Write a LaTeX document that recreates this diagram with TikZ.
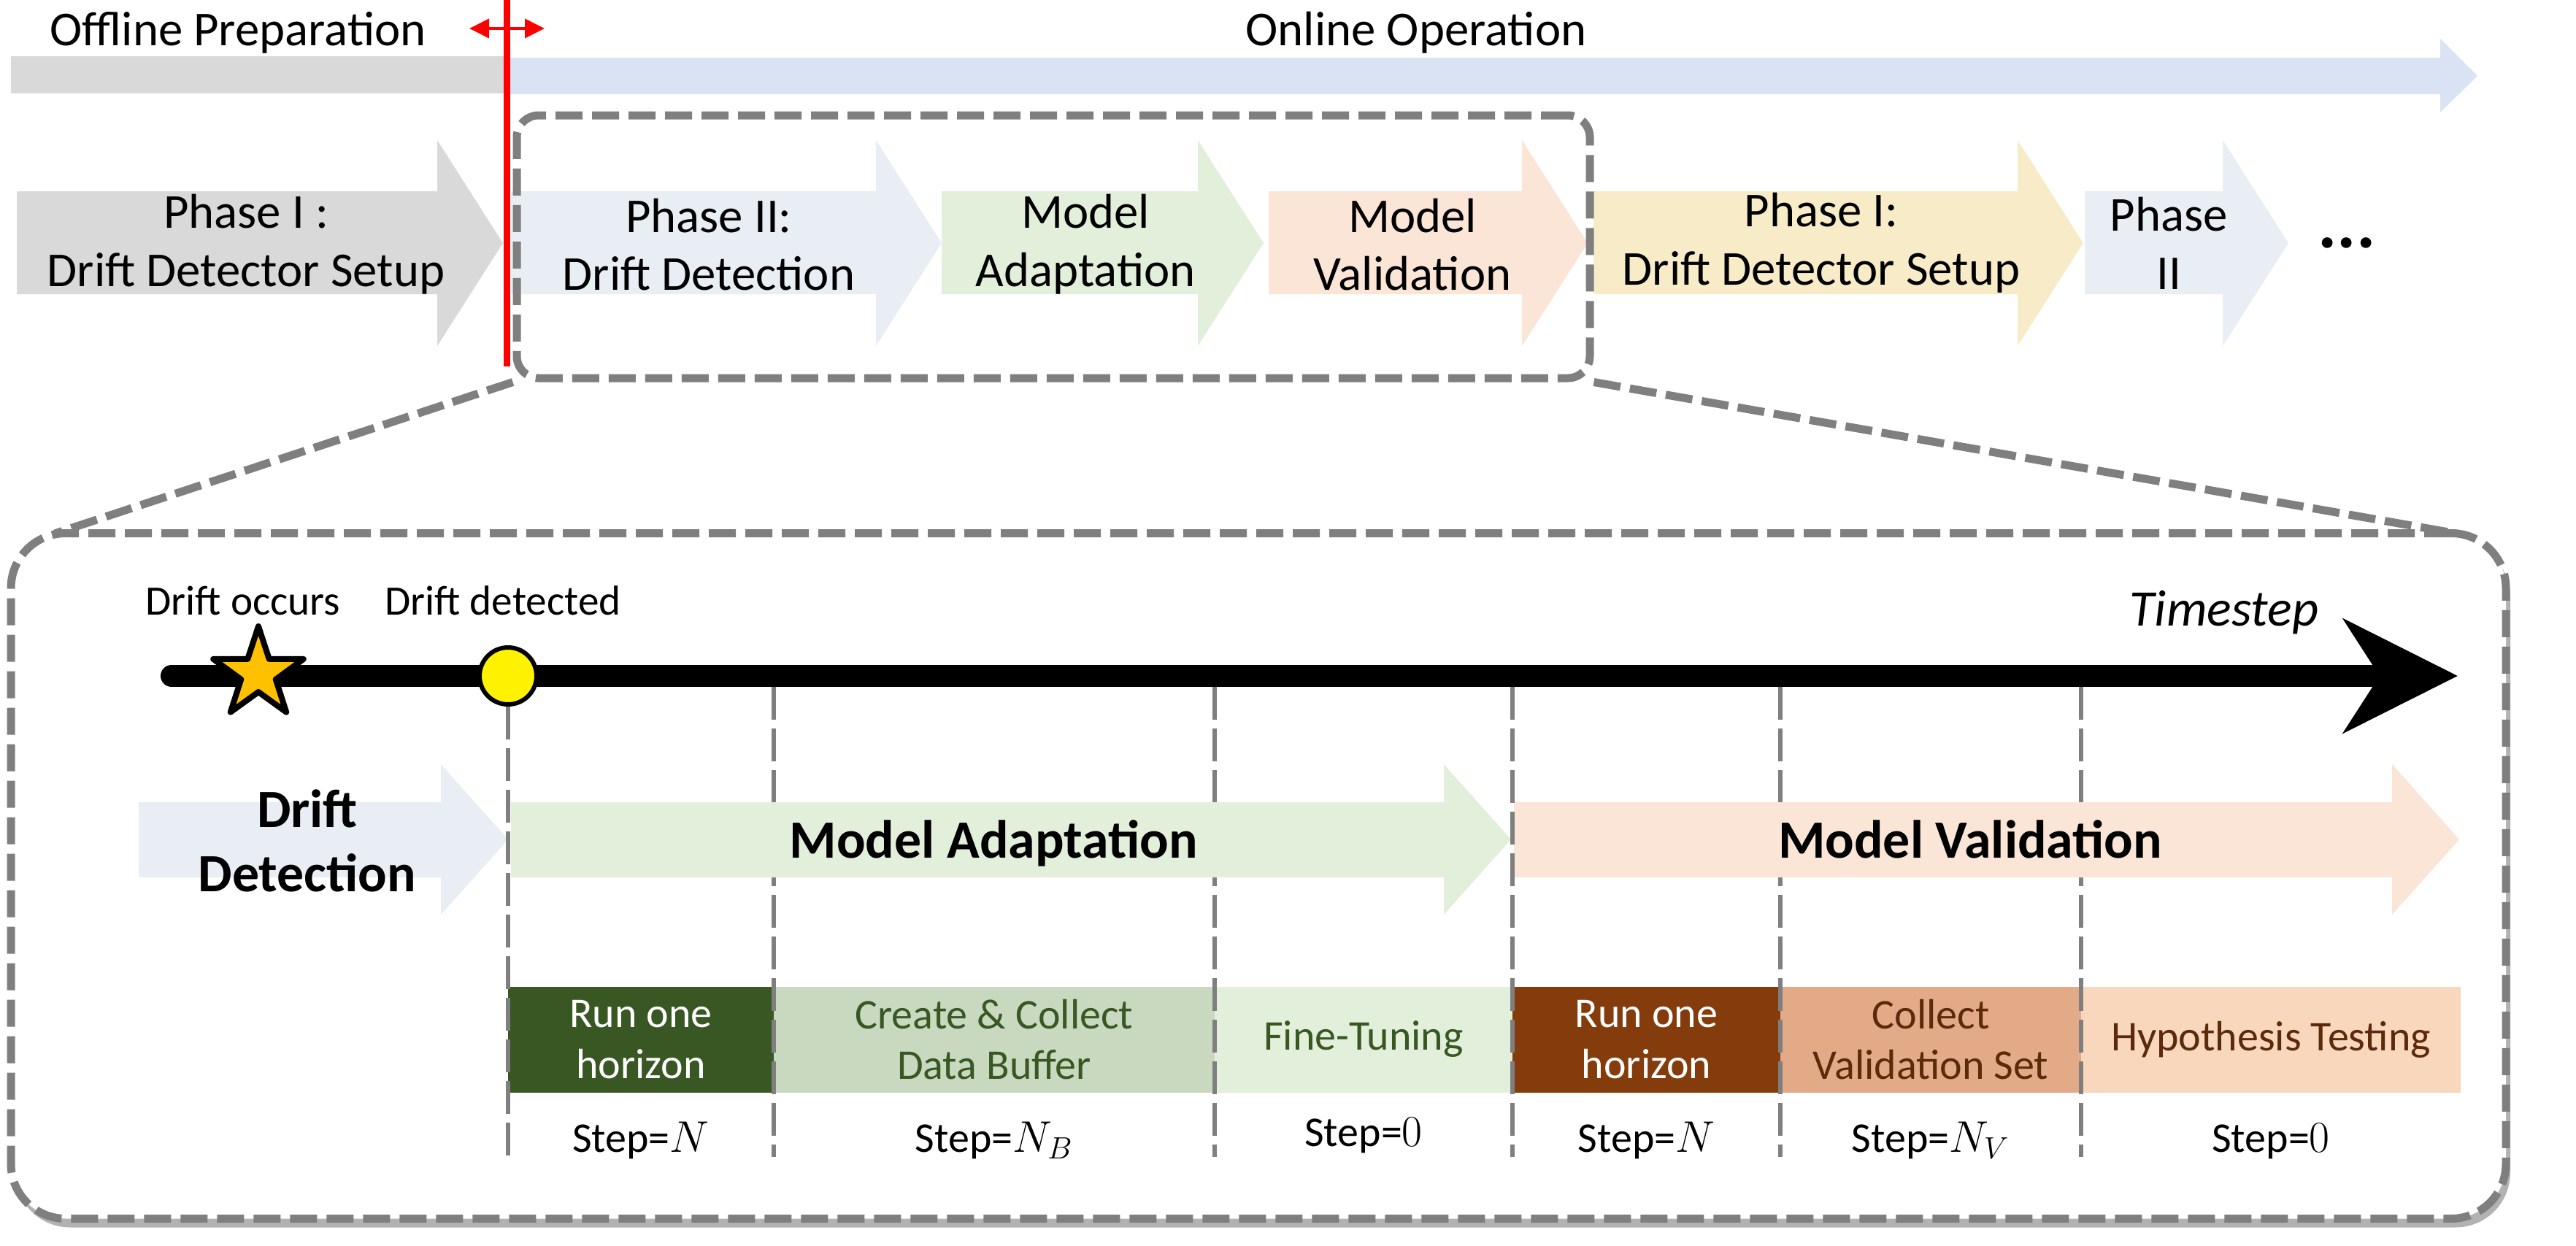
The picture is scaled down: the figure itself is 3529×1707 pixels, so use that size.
\documentclass[tikz,border=0pt]{standalone}
\usepackage{fontspec}
\setmainfont{Carlito}
\usetikzlibrary{arrows.meta,shapes.geometric,shadows}
\definecolor{phgray}{HTML}{D9D9D9}
\definecolor{phblue}{HTML}{E9EDF4}
\definecolor{phgreen}{HTML}{E2EFDA}
\definecolor{phpeach}{HTML}{FBE5D6}
\definecolor{phyellow}{HTML}{F8ECC8}
\definecolor{bandblue}{HTML}{DAE3F3}
\definecolor{zoomgray}{HTML}{7F7F7F}
\definecolor{stargold}{HTML}{FFC000}
\definecolor{darkgreen}{HTML}{385723}
\definecolor{midgreen}{HTML}{C9D9C0}
\definecolor{darkbrown}{HTML}{843C0C}
\definecolor{midbrown}{HTML}{E2AA87}
\definecolor{lightbrown}{HTML}{F8D7BC}
\definecolor{textbrown}{HTML}{5B2A0B}
\begin{document}
\begin{tikzpicture}[x=0.1mm,y=-0.1mm,line join=round,
    zoombox/.style={draw=zoomgray,line width=1.1mm,dash pattern=on 3.7mm off 1.3mm,inner sep=0pt},
    zoomline/.style={zoomgray,line width=1.1mm,dash pattern=on 3.7mm off 1.3mm},
    guide/.style={draw=zoomgray,line width=0.6mm,dash pattern=on 4.5mm off 1.2mm},
    toplabel/.style={anchor=base,font=\fontsize{19}{22}\selectfont},
    phasetext/.style={align=center,font=\fontsize{19}{22.7}\selectfont},
    bigtext/.style={align=center,font=\bfseries\fontsize{21}{25}\selectfont},
    marklabel/.style={anchor=base,font=\fontsize{16.3}{19}\selectfont},
    stepbox/.style={minimum height=14.5mm,inner sep=0pt,align=center,font=\fontsize{16.5}{19.8}\selectfont},
    steplabel/.style={anchor=base,font=\fontsize{16.5}{20}\selectfont}]
                \useasboundingbox (0,0) rectangle (3529,1707);
                \fill[phgray] (15,77) rectangle (694,128);
                \fill[bandblue] (694,79) -- (3343,79) -- (3343,53) -- (3394,104) -- (3343,154) -- (3343,129) -- (694,129) -- cycle;
                \node[toplabel] (offline) at (326,62) {Offline Preparation};
                \node[toplabel] (online) at (1940,62) {Online Operation};

                \foreach \xa/\xb/\col in {23/689/phgray,700/1290/phblue,1290/1731/phgreen,1738/2175/phpeach,2183/2854/phyellow,2856/3135/phblue}
                \fill[\col] (\xa,262) -- ({\xb-90},262) -- ({\xb-90},192) -- (\xb,333) -- ({\xb-90},474) -- ({\xb-90},403) -- (\xa,403) -- cycle;
                \node[phasetext] (setupA) at (337,335) {Phase I :\\Drift Detector Setup};
                \node[phasetext] (detectA) at (971,335) {Phase II:\\Drift Detection};
                \node[phasetext] (adaptA) at (1487,335) {Model\\Adaptation};
                \node[phasetext] (validA) at (1935,335) {Model\\Validation};
                \node[phasetext] (setupB) at (2495,333) {Phase I:\\Drift Detector Setup};
                \node[phasetext] (detectB) at (2971,333) {Phase\\II};
                \node[font=\bfseries\fontsize{28}{30}\selectfont] (more) at (3215,333) {...};

                \node[zoombox,rounded corners=3mm,minimum width=147mm,minimum height=36mm] (stage) at (1443,338) {};
                \draw[zoomline] (stage.south west) -- (75,731);
                \draw[zoomline] (stage.south east) -- (3366,731);
                \draw[red,line width=0.9mm] (694,0) -- (694,502);
                \draw[red,line width=0.4mm,{Triangle[length=2.7mm,width=2.6mm]}-{Triangle[length=2.7mm,width=2.6mm]}] (643,39) -- (746,39);

                \node[zoombox,rounded corners=7.5mm,fill=white,minimum width=341.8mm,minimum height=93.9mm,
                      drop shadow={shadow xshift=0.6mm,shadow yshift=-1.2mm,opacity=0.3,fill=black}] (detail) at (1724,1200) {};

                \draw[line width=3mm,line cap=round,-{Stealth[length=15.6mm,width=15.5mm,inset=4.9mm]}] (235,926) -- (3367,926);
                \node[star,star points=5,star point ratio=2.6,minimum size=13mm,inner sep=0pt,draw,line width=0.8mm,fill=stargold] (occur) at (354,923) {};
                \node[circle,minimum size=7.8mm,inner sep=0pt,draw,line width=0.6mm,fill=yellow] (detected) at (696,926) {};
                \node[marklabel] (occurtxt) at (333,842) {Drift occurs};
                \node[marklabel] (detecttxt) at (689,842) {Drift detected};
                \node[anchor=base,font=\itshape\fontsize{20}{24}\selectfont] (timestep) at (3047,857) {Timestep};

                \node[stepbox,fill=darkgreen,text=white,minimum width=36.4mm] (runA) at (878,1424) {Run one\\horizon};
                \node[stepbox,fill=midgreen,text=darkgreen,minimum width=60.4mm] (buffer) at (1362,1424) {Create \& Collect\\Data Buffer};
                \node[stepbox,fill=phgreen,text=darkgreen,minimum width=40.8mm] (tune) at (1868,1424) {Fine-Tuning};
                \node[stepbox,fill=darkbrown,text=white,minimum width=36.7mm] (runV) at (2255.5,1424) {Run one\\horizon};
                \node[stepbox,fill=midbrown,text=textbrown,minimum width=41.2mm] (collect) at (2645,1424) {Collect\\Validation Set};
                \node[stepbox,fill=lightbrown,text=textbrown,minimum width=52mm] (test) at (3111,1424) {Hypothesis Testing};

                \foreach \x in {1060,1664,2439,2851}
                \draw[guide] (\x,941) -- (\x,1585);
                \foreach \xa/\xb/\col in {190/696/phblue,700/2070/phgreen,2074/3369/phpeach}
                \fill[\col] (\xa,1099) -- ({\xb-92},1099) -- ({\xb-92},1047) -- (\xb,1150) -- ({\xb-92},1253) -- ({\xb-92},1202) -- (\xa,1202) -- cycle;
                \draw[guide] (detected.south) -- (696,1585);
                \draw[guide] (2072,941) -- (2072,1585);
                \node[bigtext] (detectC) at (421,1152) {Drift\\Detection};
                \node[bigtext,anchor=base] (adaptC) at (1361,1175) {Model Adaptation};
                \node[bigtext,anchor=base] (validC) at (2699,1175) {Model Validation};

                \node[steplabel] (stepA) at (878,1578) {Step=$N$};
                \node[steplabel] (stepB) at (1362,1578) {Step=$N_B$};
                \node[steplabel] (stepC) at (1868,1570) {Step=$0$};
                \node[steplabel] (stepD) at (2255.5,1578) {Step=$N$};
                \node[steplabel] (stepE) at (2645,1578) {Step=$N_V$};
                \node[steplabel] (stepF) at (3111,1578) {Step=$0$};
            \end{tikzpicture}
\end{document}
